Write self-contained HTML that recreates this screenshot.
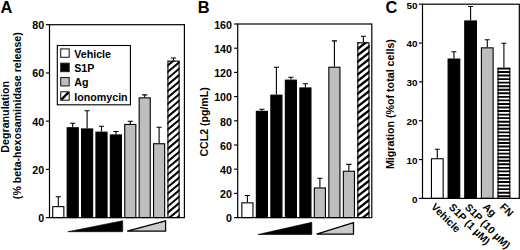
<!DOCTYPE html>
<html><head><meta charset="utf-8"><title>Figure</title>
<style>html,body{margin:0;padding:0;background:#fff;}svg{display:block;}text{font-family:"Liberation Sans",Arial,sans-serif;font-weight:bold;fill:#000;}</style>
</head><body>
<svg width="520" height="250" viewBox="0 0 520 250">
<rect x="0" y="0" width="520" height="250" fill="#fff"/>
<text x="0.5" y="12.75" font-size="16.4">A</text>
<text transform="translate(8.7 116.8) rotate(-90)" font-size="10.7" text-anchor="middle">Degranulation</text>
<text transform="translate(21.3 115.7) rotate(-90)" font-size="10.62" text-anchor="middle">(% beta-hexosaminidase release)</text>
<path d="M58.3 206.1 V196.8 M55.7 196.8 H60.9" stroke="#000" stroke-width="1.1" fill="none"/><rect x="52.75" y="206.65" width="11.1" height="10.95" fill="#fff" stroke="#000" stroke-width="1.1"/>
<path d="M72.7 127.2 V123.2 M70.1 123.2 H75.3" stroke="#000" stroke-width="1.1" fill="none"/><rect x="67.15" y="127.75" width="11.1" height="89.85" fill="#000" stroke="#000" stroke-width="1.1"/>
<path d="M87.1 128.4 V110.7 M84.5 110.7 H89.7" stroke="#000" stroke-width="1.1" fill="none"/><rect x="81.55" y="128.95" width="11.1" height="88.65" fill="#000" stroke="#000" stroke-width="1.1"/>
<path d="M101.5 131.6 V126.3 M98.9 126.3 H104.1" stroke="#000" stroke-width="1.1" fill="none"/><rect x="95.95" y="132.15" width="11.1" height="85.45" fill="#000" stroke="#000" stroke-width="1.1"/>
<path d="M115.9 134.4 V131.5 M113.3 131.5 H118.5" stroke="#000" stroke-width="1.1" fill="none"/><rect x="110.35" y="134.95" width="11.1" height="82.65" fill="#000" stroke="#000" stroke-width="1.1"/>
<path d="M130.3 123.9 V121.2 M127.7 121.2 H132.9" stroke="#000" stroke-width="1.1" fill="none"/><rect x="124.75" y="124.45" width="11.1" height="93.15" fill="#bebebe" stroke="#000" stroke-width="1.1"/>
<path d="M144.7 97.3 V94.9 M142.1 94.9 H147.3" stroke="#000" stroke-width="1.1" fill="none"/><rect x="139.15" y="97.85" width="11.1" height="119.75" fill="#bebebe" stroke="#000" stroke-width="1.1"/>
<path d="M159.1 143.2 V127.2 M156.5 127.2 H161.7" stroke="#000" stroke-width="1.1" fill="none"/><rect x="153.55" y="143.75" width="11.1" height="73.85" fill="#bebebe" stroke="#000" stroke-width="1.1"/>
<path d="M173.5 60.6 V58 M170.9 58 H176.1" stroke="#000" stroke-width="1.1" fill="none"/><clipPath id="c1"><rect x="167.4" y="60.6" width="12.2" height="157"/></clipPath><rect x="167.4" y="60.6" width="12.2" height="157" fill="#fff"/><path d="M165.4 54.68 L181.6 41.08M165.4 61.08 L181.6 47.48M165.4 67.48 L181.6 53.88M165.4 73.88 L181.6 60.28M165.4 80.28 L181.6 66.68M165.4 86.68 L181.6 73.08M165.4 93.08 L181.6 79.48M165.4 99.48 L181.6 85.88M165.4 105.88 L181.6 92.28M165.4 112.28 L181.6 98.68M165.4 118.68 L181.6 105.08M165.4 125.08 L181.6 111.48M165.4 131.48 L181.6 117.88M165.4 137.88 L181.6 124.28M165.4 144.28 L181.6 130.68M165.4 150.68 L181.6 137.08M165.4 157.08 L181.6 143.48M165.4 163.48 L181.6 149.88M165.4 169.88 L181.6 156.28M165.4 176.28 L181.6 162.68M165.4 182.68 L181.6 169.08M165.4 189.08 L181.6 175.48M165.4 195.48 L181.6 181.88M165.4 201.88 L181.6 188.28M165.4 208.28 L181.6 194.68M165.4 214.68 L181.6 201.08M165.4 221.08 L181.6 207.48M165.4 227.48 L181.6 213.88M165.4 233.88 L181.6 220.28" stroke="#000" stroke-width="2.0" fill="none" clip-path="url(#c1)"/><rect x="167.95" y="61.15" width="11.1" height="156.45" fill="none" stroke="#000" stroke-width="1.1"/>
<path d="M45.9 217.6 H49.5" stroke="#000" stroke-width="1.15"/>
<text x="44.2" y="222" font-size="10.7" text-anchor="end">0</text>
<path d="M45.9 169.38 H49.5" stroke="#000" stroke-width="1.15"/>
<text x="44.2" y="173.78" font-size="10.7" text-anchor="end">20</text>
<path d="M45.9 121.15 H49.5" stroke="#000" stroke-width="1.15"/>
<text x="44.2" y="125.55" font-size="10.7" text-anchor="end">40</text>
<path d="M45.9 72.92 H49.5" stroke="#000" stroke-width="1.15"/>
<text x="44.2" y="77.32" font-size="10.7" text-anchor="end">60</text>
<path d="M45.9 24.7 H49.5" stroke="#000" stroke-width="1.15"/>
<text x="44.2" y="29.1" font-size="10.7" text-anchor="end">80</text>
<rect x="49.5" y="24.7" width="134.9" height="192.9" fill="none" stroke="#000" stroke-width="1.2"/>
<rect x="57.3" y="45.5" width="73.1" height="59.3" fill="#fff" stroke="#000" stroke-width="1.1"/>
<rect x="60.7" y="48.9" width="8.5" height="8.4" fill="#fff" stroke="#222" stroke-width="1.1"/>
<text x="74.2" y="57.6" font-size="10.7">Vehicle</text>
<rect x="60.7" y="63.2" width="8.5" height="8.4" fill="#000" stroke="#222" stroke-width="1.1"/>
<text x="74.2" y="71.9" font-size="10.7">S1P</text>
<rect x="60.7" y="77.5" width="8.5" height="8.4" fill="#bebebe" stroke="#222" stroke-width="1.1"/>
<text x="74.2" y="86.2" font-size="10.7">Ag</text>
<rect x="60.7" y="91.8" width="8.5" height="8.4" fill="#fff" stroke="#222" stroke-width="1.1"/>
<path d="M61.4 99.6 L68.5 92.4" stroke="#000" stroke-width="2.3"/>
<text x="74.2" y="100.5" font-size="10.7">Ionomycin</text>
<path d="M67.8 231.7 L122.7 220.7 V231.7 Z" fill="#000" stroke="#000" stroke-width="0.6"/>
<path d="M127.2 231.1 L165.6 220.9 V231.1 Z" fill="#cbcbcb" stroke="#000" stroke-width="1.2" stroke-linejoin="miter"/>
<text x="197.8" y="12.8" font-size="16.4">B</text>
<text transform="translate(207.6 121.9) rotate(-90)" font-size="10.58" text-anchor="middle">CCL2 (pg/mL)</text>
<path d="M247.4 202.3 V195.5 M244.8 195.5 H250" stroke="#000" stroke-width="1.1" fill="none"/><rect x="241.85" y="202.85" width="11.1" height="14.75" fill="#fff" stroke="#000" stroke-width="1.1"/>
<path d="M261.9 110.8 V109.3 M259.3 109.3 H264.5" stroke="#000" stroke-width="1.1" fill="none"/><rect x="256.35" y="111.35" width="11.1" height="106.25" fill="#000" stroke="#000" stroke-width="1.1"/>
<path d="M276.4 94.6 V67.3 M273.8 67.3 H279" stroke="#000" stroke-width="1.1" fill="none"/><rect x="270.85" y="95.15" width="11.1" height="122.45" fill="#000" stroke="#000" stroke-width="1.1"/>
<path d="M290.9 79.6 V77.3 M288.3 77.3 H293.5" stroke="#000" stroke-width="1.1" fill="none"/><rect x="285.35" y="80.15" width="11.1" height="137.45" fill="#000" stroke="#000" stroke-width="1.1"/>
<path d="M305.4 87.4 V83.7 M302.8 83.7 H308" stroke="#000" stroke-width="1.1" fill="none"/><rect x="299.85" y="87.95" width="11.1" height="129.65" fill="#000" stroke="#000" stroke-width="1.1"/>
<path d="M319.9 187.4 V178.2 M317.3 178.2 H322.5" stroke="#000" stroke-width="1.1" fill="none"/><rect x="314.35" y="187.95" width="11.1" height="29.65" fill="#bebebe" stroke="#000" stroke-width="1.1"/>
<path d="M334.4 66.7 V40.9 M331.8 40.9 H337" stroke="#000" stroke-width="1.1" fill="none"/><rect x="328.85" y="67.25" width="11.1" height="150.35" fill="#bebebe" stroke="#000" stroke-width="1.1"/>
<path d="M348.9 170.7 V164.4 M346.3 164.4 H351.5" stroke="#000" stroke-width="1.1" fill="none"/><rect x="343.35" y="171.25" width="11.1" height="46.35" fill="#bebebe" stroke="#000" stroke-width="1.1"/>
<path d="M363.4 42.3 V36.2 M360.8 36.2 H366" stroke="#000" stroke-width="1.1" fill="none"/><clipPath id="c2"><rect x="357.3" y="42.3" width="12.2" height="175.3"/></clipPath><rect x="357.3" y="42.3" width="12.2" height="175.3" fill="#fff"/><path d="M355.3 31.56 L371.5 18.91M355.3 37.96 L371.5 25.31M355.3 44.36 L371.5 31.71M355.3 50.76 L371.5 38.11M355.3 57.16 L371.5 44.51M355.3 63.56 L371.5 50.91M355.3 69.96 L371.5 57.31M355.3 76.36 L371.5 63.71M355.3 82.76 L371.5 70.11M355.3 89.16 L371.5 76.51M355.3 95.56 L371.5 82.91M355.3 101.96 L371.5 89.31M355.3 108.36 L371.5 95.71M355.3 114.76 L371.5 102.11M355.3 121.16 L371.5 108.51M355.3 127.56 L371.5 114.91M355.3 133.96 L371.5 121.31M355.3 140.36 L371.5 127.71M355.3 146.76 L371.5 134.11M355.3 153.16 L371.5 140.51M355.3 159.56 L371.5 146.91M355.3 165.96 L371.5 153.31M355.3 172.36 L371.5 159.71M355.3 178.76 L371.5 166.11M355.3 185.16 L371.5 172.51M355.3 191.56 L371.5 178.91M355.3 197.96 L371.5 185.31M355.3 204.36 L371.5 191.71M355.3 210.76 L371.5 198.11M355.3 217.16 L371.5 204.51M355.3 223.56 L371.5 210.91M355.3 229.96 L371.5 217.31" stroke="#000" stroke-width="2.3" fill="none" clip-path="url(#c2)"/><rect x="357.85" y="42.85" width="11.1" height="174.75" fill="none" stroke="#000" stroke-width="1.1"/>
<path d="M234.1 217.6 H237.7" stroke="#000" stroke-width="1.15"/>
<text x="232" y="222.3" font-size="10.7" text-anchor="end">0</text>
<path d="M234.1 193.4 H237.7" stroke="#000" stroke-width="1.15"/>
<text x="232" y="198.1" font-size="10.7" text-anchor="end">20</text>
<path d="M234.1 169.2 H237.7" stroke="#000" stroke-width="1.15"/>
<text x="232" y="173.9" font-size="10.7" text-anchor="end">40</text>
<path d="M234.1 145 H237.7" stroke="#000" stroke-width="1.15"/>
<text x="232" y="149.7" font-size="10.7" text-anchor="end">60</text>
<path d="M234.1 120.8 H237.7" stroke="#000" stroke-width="1.15"/>
<text x="232" y="125.5" font-size="10.7" text-anchor="end">80</text>
<path d="M234.1 96.6 H237.7" stroke="#000" stroke-width="1.15"/>
<text x="232" y="101.3" font-size="10.7" text-anchor="end">100</text>
<path d="M234.1 72.4 H237.7" stroke="#000" stroke-width="1.15"/>
<text x="232" y="77.1" font-size="10.7" text-anchor="end">120</text>
<path d="M234.1 48.2 H237.7" stroke="#000" stroke-width="1.15"/>
<text x="232" y="52.9" font-size="10.7" text-anchor="end">140</text>
<path d="M234.1 24 H237.7" stroke="#000" stroke-width="1.15"/>
<text x="232" y="28.7" font-size="10.7" text-anchor="end">160</text>
<rect x="237.7" y="24" width="134.1" height="193.6" fill="none" stroke="#000" stroke-width="1.2"/>
<path d="M257.9 234.5 L311.8 222.3 V234.5 Z" fill="#000" stroke="#000" stroke-width="0.6"/>
<path d="M316.6 234.1 L353.5 222.7 V234.1 Z" fill="#cbcbcb" stroke="#000" stroke-width="1.25" stroke-linejoin="miter"/>
<text x="385.4" y="13.2" font-size="16.4">C</text>
<text transform="translate(394.3 104.1) rotate(-90)" font-size="10.7" text-anchor="middle">Migration (%of total cells)</text>
<path d="M437.3 158.2 V149.2 M434.85 149.2 H439.75" stroke="#000" stroke-width="1.1" fill="none"/><rect x="431.45" y="158.75" width="11.7" height="39.65" fill="#fff" stroke="#000" stroke-width="1.1"/>
<path d="M453.95 58.5 V51.7 M451.5 51.7 H456.4" stroke="#000" stroke-width="1.1" fill="none"/><rect x="448.1" y="59.05" width="11.7" height="139.35" fill="#000" stroke="#000" stroke-width="1.1"/>
<path d="M470.6 20.4 V6.5 M468.15 6.5 H473.05" stroke="#000" stroke-width="1.1" fill="none"/><rect x="464.75" y="20.95" width="11.7" height="177.45" fill="#000" stroke="#000" stroke-width="1.1"/>
<path d="M487.25 47.3 V39.7 M484.8 39.7 H489.7" stroke="#000" stroke-width="1.1" fill="none"/><rect x="481.4" y="47.85" width="11.7" height="150.55" fill="#bebebe" stroke="#000" stroke-width="1.1"/>
<path d="M503.9 67.7 V43.2 M501.45 43.2 H506.35" stroke="#000" stroke-width="1.1" fill="none"/><clipPath id="c3"><rect x="497.5" y="67.7" width="12.8" height="130.7"/></clipPath><rect x="497.5" y="67.7" width="12.8" height="130.7" fill="#fff"/><path d="M496.5 68.47 H511.3M496.5 72.02 H511.3M496.5 75.57 H511.3M496.5 79.12 H511.3M496.5 82.67 H511.3M496.5 86.22 H511.3M496.5 89.77 H511.3M496.5 93.32 H511.3M496.5 96.87 H511.3M496.5 100.42 H511.3M496.5 103.97 H511.3M496.5 107.52 H511.3M496.5 111.07 H511.3M496.5 114.62 H511.3M496.5 118.17 H511.3M496.5 121.72 H511.3M496.5 125.27 H511.3M496.5 128.82 H511.3M496.5 132.37 H511.3M496.5 135.92 H511.3M496.5 139.47 H511.3M496.5 143.02 H511.3M496.5 146.57 H511.3M496.5 150.12 H511.3M496.5 153.67 H511.3M496.5 157.22 H511.3M496.5 160.77 H511.3M496.5 164.32 H511.3M496.5 167.87 H511.3M496.5 171.42 H511.3M496.5 174.97 H511.3M496.5 178.52 H511.3M496.5 182.07 H511.3M496.5 185.62 H511.3M496.5 189.17 H511.3M496.5 192.72 H511.3M496.5 196.27 H511.3M496.5 199.82 H511.3" stroke="#000" stroke-width="1.9" fill="none" clip-path="url(#c3)"/><rect x="498.05" y="68.25" width="11.7" height="130.15" fill="none" stroke="#000" stroke-width="1.1"/>
<path d="M418.9 198.4 H422.5" stroke="#000" stroke-width="1.15"/>
<text x="417.4" y="202.8" font-size="9.9" text-anchor="end">0</text>
<path d="M418.9 159.56 H422.5" stroke="#000" stroke-width="1.15"/>
<text x="417.4" y="163.96" font-size="9.9" text-anchor="end">10</text>
<path d="M418.9 120.72 H422.5" stroke="#000" stroke-width="1.15"/>
<text x="417.4" y="125.12" font-size="9.9" text-anchor="end">20</text>
<path d="M418.9 81.88 H422.5" stroke="#000" stroke-width="1.15"/>
<text x="417.4" y="86.28" font-size="9.9" text-anchor="end">30</text>
<path d="M418.9 43.04 H422.5" stroke="#000" stroke-width="1.15"/>
<text x="417.4" y="47.44" font-size="9.9" text-anchor="end">40</text>
<path d="M418.9 4.2 H422.5" stroke="#000" stroke-width="1.15"/>
<text x="417.4" y="8.6" font-size="9.9" text-anchor="end">50</text>
<rect x="422.5" y="4.2" width="96.8" height="194.2" fill="none" stroke="#000" stroke-width="1.2"/>
<text transform="translate(430.6 207.6) rotate(45)" font-size="10.5">Vehicle</text>
<text transform="translate(448.25 207.8) rotate(45)" font-size="10.5">S1P (1 µM)</text>
<text transform="translate(464.2 207.9) rotate(45)" font-size="10.5">S1P (10 µM)</text>
<text transform="translate(482.25 207.4) rotate(45)" font-size="10.5">Ag</text>
<text transform="translate(499.2 207.4) rotate(45)" font-size="10.5">FN</text>
</svg>
</body></html>
